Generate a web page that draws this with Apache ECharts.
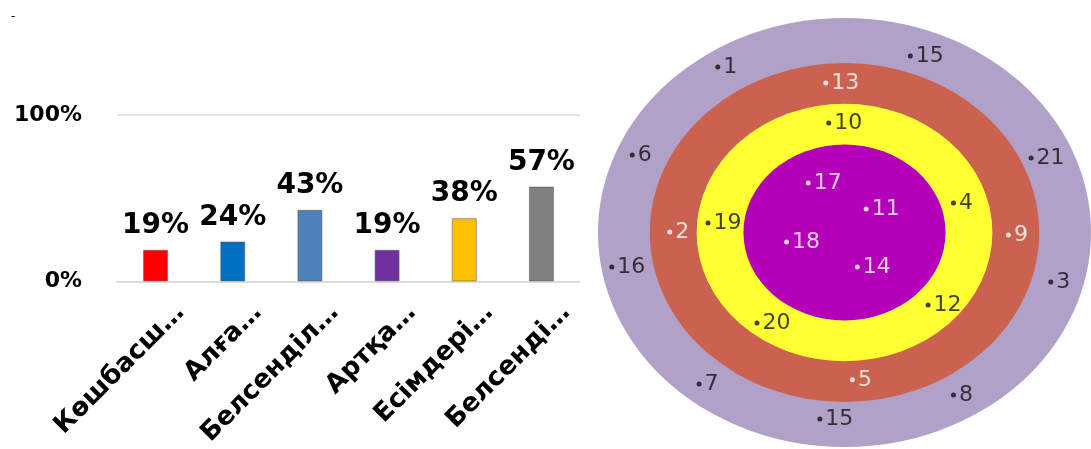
<!DOCTYPE html>
<html><head><meta charset="utf-8">
<script src="https://cdn.jsdelivr.net/npm/echarts@6/dist/echarts.min.js"></script>
<style>html,body{margin:0;padding:0;background:#fff}#c{width:1091px;height:449px}</style>
</head><body><div id="c"></div>
<script>
// ---- data ----
const categories = ['Көшбасш…', 'Алға…', 'Белсенділ…', 'Артқа…', 'Есімдері…', 'Белсенді…'];
const percentValues = [19, 24, 43, 19, 38, 57];
const yTickValues = [0, 100];
const ringRadii = [1.0, 0.79, 0.60, 0.41];
const pointLabels = ['1', '15', '13', '10', '6', '21', '17', '11', '4', '19', '2', '9', '18', '16', '14', '3', '12', '20', '7', '5', '8', '15'];
const pointX = [-0.514, 0.267, -0.076, -0.064, -0.861, 0.757, -0.147, 0.088, 0.442, -0.554, -0.709, 0.665, -0.235, -0.944, 0.052, 0.837, 0.339, -0.355, -0.590, 0.032, 0.442, -0.100];
const pointY = [0.772, 0.823, 0.697, 0.510, 0.361, 0.347, 0.231, 0.110, 0.138, 0.044, 0.002, -0.012, -0.044, -0.161, -0.161, -0.231, -0.338, -0.422, -0.706, -0.687, -0.758, -0.869];

// ---- styles ----
const barColors = ['#FF0000', '#0070C0', '#4F81BD', '#7030A0', '#FFC000', '#808080'];
const ringColors = ['#B1A0C7', '#CB6250', '#FFFF33', '#B400B8'];
const ringTextColors = ['#111111', '#FFFFFF', '#111111', '#FFFFFF'];

function ringOf(x, y) {
  const d = Math.sqrt(x * x + y * y);
  let idx = 0;
  ringRadii.forEach((r, i) => { if (d < r) idx = i; });
  return idx;
}

const chart = echarts.init(document.getElementById('c'), null, { renderer: 'canvas' });
chart.setOption({
  animation: false,
  backgroundColor: '#ffffff',
  title: { text: '-', left: 6, top: 6, textStyle: { fontSize: 12, fontWeight: 'normal', color: '#000', fontFamily: 'DejaVu Sans' } },
  grid: [
    { left: 117, top: 115, width: 463, height: 170 },
    { left: 598, top: 18, width: 502, height: 429 }
  ],
  xAxis: [
    {
      type: 'category', gridIndex: 0, data: categories,
      axisLine: { lineStyle: { color: '#d9d9d9', width: 1.5 } },
      axisTick: { show: false },
      axisLabel: {
        rotate: 45, interval: 0, margin: 52, padding: [0, -35, 0, 0],
        fontSize: 26, fontWeight: 'bold', fontFamily: 'DejaVu Sans', color: '#000'
      }
    },
    { type: 'value', gridIndex: 1, min: -1, max: 1, show: false }
  ],
  yAxis: [
    {
      type: 'value', gridIndex: 0, min: yTickValues[0], max: yTickValues[1], interval: yTickValues[1] - yTickValues[0],
      axisLine: { show: false }, axisTick: { show: false },
      splitLine: { lineStyle: { color: '#d9d9d9', width: 1.5 } },
      axisLabel: { formatter: '{value}%', margin: 35, fontSize: 22, fontWeight: 'bold', fontFamily: 'DejaVu Sans', color: '#000' }
    },
    { type: 'value', gridIndex: 1, min: -1, max: 1, show: false }
  ],
  series: [
    {
      type: 'bar', xAxisIndex: 0, yAxisIndex: 0, barWidth: 25,
      data: percentValues.map((v, i) => ({ value: v, itemStyle: { color: barColors[i], borderColor: 'rgba(90,90,90,0.55)', borderWidth: 1 } })),
      label: { show: true, position: 'top', distance: 10, formatter: '{c}%', fontSize: 28, fontWeight: 'bold', fontFamily: 'DejaVu Sans', color: '#000' }
    },
    {
      type: 'custom', xAxisIndex: 1, yAxisIndex: 1, clip: false,
      data: ringRadii.map(r => [r]),
      encode: { x: 0 },
      renderItem: (params, api) => {
        const c = api.coord([0, 0]);
        const r = api.value(0);
        const s = api.size([r, r]);
        return {
          type: 'circle', x: c[0], y: c[1], scaleX: s[0] / s[1], scaleY: 1,
          shape: { cx: 0, cy: 0, r: s[1] },
          style: { fill: ringColors[params.dataIndex] }
        };
      }
    },
    {
      type: 'scatter', xAxisIndex: 1, yAxisIndex: 1, z: 5, symbol: 'circle', symbolSize: 5,
      data: pointX.map((x, i) => {
        const col = ringTextColors[ringOf(x, pointY[i])];
        return {
          value: [x, pointY[i]], name: pointLabels[i],
          itemStyle: { color: col },
          label: { color: col }
        };
      }),
      label: { show: true, position: 'right', distance: 3, formatter: '{b}', fontSize: 22, fontFamily: 'DejaVu Sans' }
    }
  ]
});
</script>
</body></html>
